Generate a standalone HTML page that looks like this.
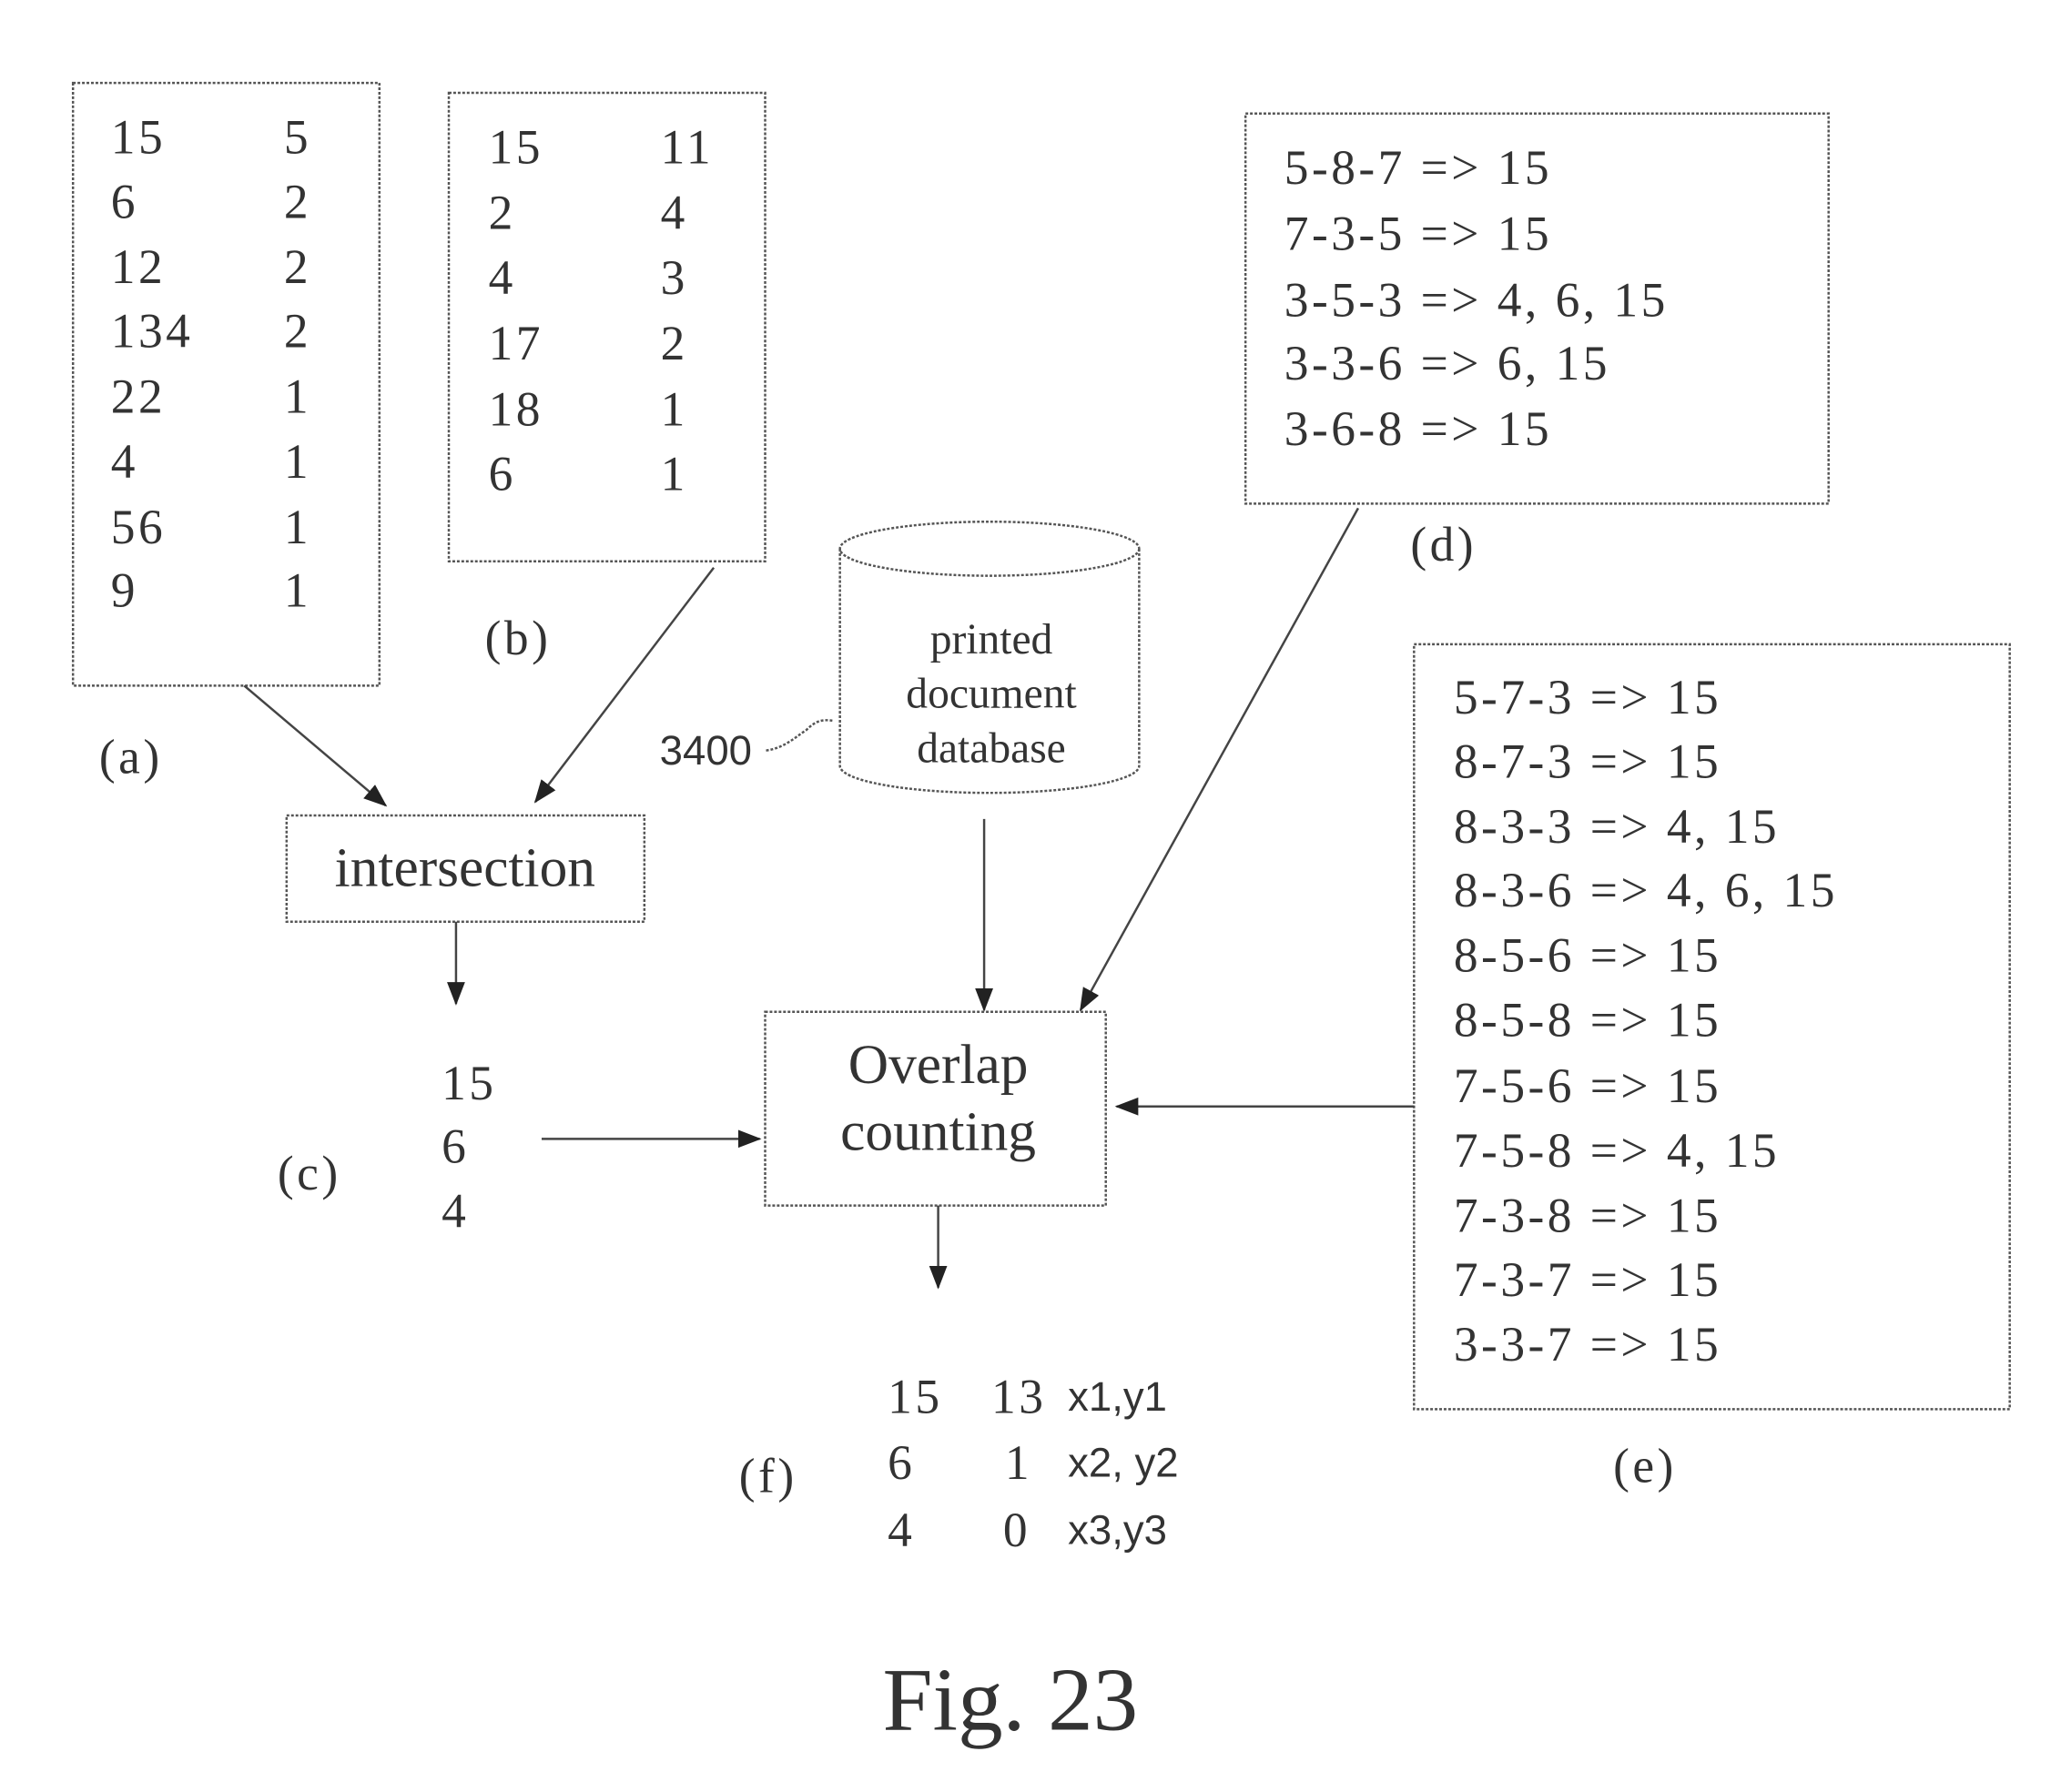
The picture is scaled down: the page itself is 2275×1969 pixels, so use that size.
<!DOCTYPE html>
<html><head><meta charset="utf-8"><style>
html,body{margin:0;padding:0;background:#fff;}
svg{display:block}
text{font-family:"Liberation Serif",serif;fill:#333;dominant-baseline:central}
.s{font-family:"Liberation Sans",sans-serif}
.n text{letter-spacing:3.5px}
</style></head><body>
<svg width="2275" height="1969" viewBox="0 0 2275 1969" xmlns="http://www.w3.org/2000/svg">
<defs>
<marker id="ah2" markerWidth="26" markerHeight="26" refX="24" refY="13" orient="auto" markerUnits="userSpaceOnUse" viewBox="0 0 26 26"><path d="M0,3 L26,13 L0,23 z" fill="#222"/></marker></defs>
<g transform="scale(0.99)">
<g fill="none" stroke="#555" stroke-width="2.5" stroke-dasharray="3,2">
<rect x="81" y="92" width="340" height="669"/>
<rect x="498" y="103" width="351" height="520"/>
<rect x="318" y="905" width="397" height="118"/>
<rect x="849" y="1123" width="378" height="215"/>
<rect x="1382" y="126" width="647" height="433"/>
<rect x="1569" y="715" width="661" height="849"/>
<path d="M932,609 L932,850 A166,30 0 0 0 1264,850 L1264,609"/>
<ellipse cx="1098" cy="609" rx="166" ry="30"/>
<path d="M850,833 C870,830 880,820 895,810 C905,800 912,798 925,800"/>
</g>
<g stroke="#444" stroke-width="2.5" fill="none" marker-end="url(#ah2)">
<line x1="271" y1="761" x2="428" y2="894"/>
<line x1="792" y1="630" x2="594" y2="890"/>
<line x1="506" y1="1023" x2="506" y2="1114"/>
<line x1="601" y1="1264" x2="843" y2="1264"/>
<line x1="1092" y1="909" x2="1092" y2="1121"/>
<line x1="1507" y1="564" x2="1199" y2="1121"/>
<line x1="1569" y1="1228" x2="1239" y2="1228"/>
<line x1="1041" y1="1338" x2="1041" y2="1429"/>
</g>
<g font-size="54" class="n">
<text x="123" y="152">15</text><text x="315" y="152">5</text>
<text x="123" y="224">6</text><text x="315" y="224">2</text>
<text x="123" y="296">12</text><text x="315" y="296">2</text>
<text x="123" y="367">134</text><text x="315" y="367">2</text>
<text x="123" y="440">22</text><text x="315" y="440">1</text>
<text x="123" y="512">4</text><text x="315" y="512">1</text>
<text x="123" y="585">56</text><text x="315" y="585">1</text>
<text x="123" y="655">9</text><text x="315" y="655">1</text>
<text x="542" y="163">15</text><text x="733" y="163">11</text>
<text x="542" y="236">2</text><text x="733" y="236">4</text>
<text x="542" y="308">4</text><text x="733" y="308">3</text>
<text x="542" y="381">17</text><text x="733" y="381">2</text>
<text x="542" y="454">18</text><text x="733" y="454">1</text>
<text x="542" y="526">6</text><text x="733" y="526">1</text>
<text x="110" y="840">(a)</text><text x="538" y="708">(b)</text>
<text x="490" y="1202">15</text><text x="490" y="1272">6</text><text x="490" y="1344">4</text>
<text x="308" y="1302">(c)</text>
<text x="1425" y="186">5-8-7 =&gt; 15</text>
<text x="1425" y="259">7-3-5 =&gt; 15</text>
<text x="1425" y="333">3-5-3 =&gt; 4, 6, 15</text>
<text x="1425" y="403">3-3-6 =&gt; 6, 15</text>
<text x="1425" y="476">3-6-8 =&gt; 15</text>
<text x="1565" y="604">(d)</text>
<text x="1613" y="774">5-7-3 =&gt; 15</text>
<text x="1613" y="845">8-7-3 =&gt; 15</text>
<text x="1613" y="917">8-3-3 =&gt; 4, 15</text>
<text x="1613" y="988">8-3-6 =&gt; 4, 6, 15</text>
<text x="1613" y="1060">8-5-6 =&gt; 15</text>
<text x="1613" y="1132">8-5-8 =&gt; 15</text>
<text x="1613" y="1205">7-5-6 =&gt; 15</text>
<text x="1613" y="1277">7-5-8 =&gt; 4, 15</text>
<text x="1613" y="1349">7-3-8 =&gt; 15</text>
<text x="1613" y="1420">7-3-7 =&gt; 15</text>
<text x="1613" y="1492">3-3-7 =&gt; 15</text>
<text x="1790" y="1627">(e)</text>
<text x="985" y="1550">15</text><text x="1100" y="1550">13</text>
<text x="985" y="1623">6</text><text x="1115" y="1623">1</text>
<text x="985" y="1698">4</text><text x="1113" y="1698">0</text>
<text x="820" y="1638">(f)</text>
</g>
<g font-size="46" class="s">
<text class="s" x="1185" y="1550">x1,y1</text>
<text class="s" x="1185" y="1623">x2, y2</text>
<text class="s" x="1185" y="1698">x3,y3</text>
<text class="s" x="732" y="833">3400</text>
</g>
<g font-size="48" text-anchor="middle">
<text x="1100" y="710">printed</text>
<text x="1100" y="770">document</text>
<text x="1100" y="831">database</text>
</g>
<text x="516" y="963" font-size="62" text-anchor="middle">intersection</text>
<text x="1041" y="1182" font-size="62" text-anchor="middle">Overlap</text>
<text x="1041" y="1256" font-size="62" text-anchor="middle">counting</text>
<text x="1121" y="1887" font-size="100" text-anchor="middle">Fig. 23</text>
</g>
</svg>
</body></html>
